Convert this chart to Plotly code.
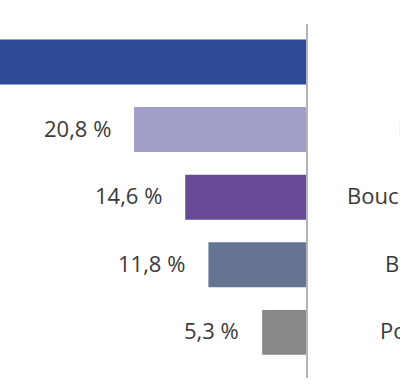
import plotly.graph_objects as go

categories = ["GMS", "Industriels", "Boucheries-traiteurs", "Boulangeries", "Poissonneries"]
values = [44.6, 20.8, 14.6, 11.8, 5.3]
value_labels = ["44,6 %", "20,8 %", "14,6 %", "11,8 %", "5,3 %"]
colors = ["#2E4A94", "#A29FCB", "#664A98", "#667494", "#8A878B"]

fig = go.Figure()
fig.add_trace(go.Bar(
    x=values, y=categories, orientation="h",
    marker=dict(color=colors, line=dict(width=0)),
    hoverinfo="skip", showlegend=False,
))

font_main = dict(family="Open Sans", size=22, color="#3a3a3a")

annotations = []
for c, v, t in zip(categories, values, value_labels):
    annotations.append(dict(x=v, y=c, xref="x", yref="y", text=t, showarrow=False,
                            xanchor="right", yanchor="middle", xshift=-21, yshift=2, font=font_main))
    annotations.append(dict(x=1.477, y=c, xref="paper", yref="y", text=c, showarrow=False,
                            xanchor="center", yanchor="middle", yshift=2, font=font_main))

fig.update_layout(
    width=400, height=391,
    margin=dict(l=0, r=94, t=24, b=13),
    paper_bgcolor="white", plot_bgcolor="white",
    bargap=0.335,
    xaxis=dict(range=[37.0, 0], showgrid=False, zeroline=False, showticklabels=False, showline=False),
    yaxis=dict(categoryorder="array", categoryarray=categories, range=[4.675, -0.562],
               side="right", showline=True, linecolor="#b4b4b4", linewidth=2,
               showticklabels=False, showgrid=False, zeroline=False, ticks=""),
    annotations=annotations,
)

fig.write_html("out.html", config={"displayModeBar": False},
               post_script="document.body.style.margin='0';")
